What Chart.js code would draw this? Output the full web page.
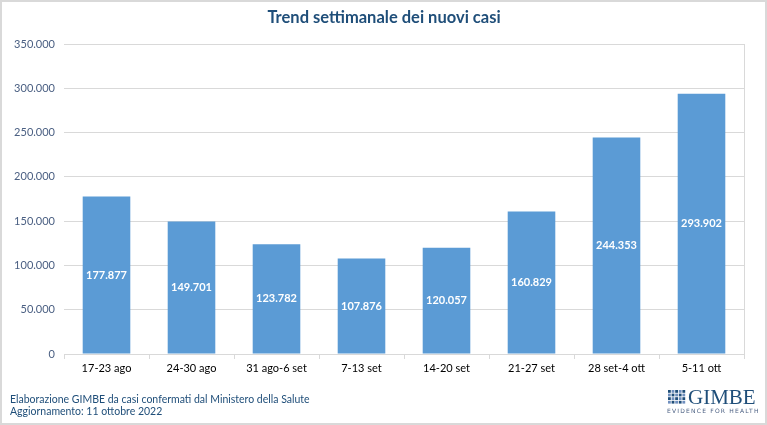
<!DOCTYPE html>
<html lang="it">

<head>
    <meta charset="UTF-8">
    <title>Trend settimanale dei nuovi casi</title>
    <style>
        html,
        body {
            margin: 0;
            padding: 0;
            background: #fff;
        }

        .wrap {
            width: 767px;
            height: 425px;
            box-sizing: border-box;
            border: 2px solid #d9d9d9;
            position: relative;
        }
    </style>
</head>

<body>
    <div class="wrap">
        <canvas id="myChart" width="763" height="421"></canvas>
    </div>

    <script src="https://cdn.jsdelivr.net/npm/chart.js"></script>

    <script>
        // dati
        const weeks = ['17-23 ago', '24-30 ago', '31 ago-6 set', '7-13 set', '14-20 set', '21-27 set', '28 set-4 ott', '5-11 ott'];
        const newCases = [177877, 149701, 123782, 107876, 120057, 160829, 244353, 293902];
        const yTicks = [0, 50000, 100000, 150000, 200000, 250000, 300000, 350000];

        const FONT = 'Lato, "Open Sans", sans-serif';
        const NAVY = '#1f4e79';

        // 177877 -> "177.877"
        function fmt(n) {
            return String(n).replace(/\B(?=(\d{3})+(?!\d))/g, '.');
        }

        // etichette, titolo, footer e logo
        const extras = {
            id: 'extras',
            afterDatasetsDraw(chart) {
                const ctx = chart.ctx;
                const meta = chart.getDatasetMeta(0);
                ctx.save();
                ctx.fillStyle = '#fff';
                ctx.font = 'bold 11px ' + FONT;
                ctx.textAlign = 'center';
                ctx.textBaseline = 'middle';
                meta.data.forEach((bar, i) => {
                    ctx.fillText(fmt(newCases[i]), bar.x, (bar.y + bar.base) / 2);
                });
                ctx.restore();
            },
            afterDraw(chart) {
                const ctx = chart.ctx;
                const a = chart.chartArea;
                ctx.save();
                // bordo destro area grafico
                ctx.strokeStyle = '#d9d9d9';
                ctx.lineWidth = 1;
                ctx.beginPath();
                ctx.moveTo(Math.round(a.right) + 0.5, a.top);
                ctx.lineTo(Math.round(a.right) + 0.5, a.bottom);
                ctx.stroke();

                // titolo
                ctx.fillStyle = NAVY;
                ctx.font = 'bold 16.5px ' + FONT;
                ctx.textAlign = 'center';
                ctx.textBaseline = 'middle';
                ctx.fillText('Trend settimanale dei nuovi casi', 382, 16);

                // footer
                ctx.font = '10.5px ' + FONT;
                ctx.textAlign = 'left';
                ctx.fillText('Elaborazione GIMBE da casi confermati dal Ministero della Salute', 8, 398);
                ctx.fillText('Aggiornamento: 11 ottobre 2022', 8, 410);

                // logo
                for (let r = 0; r < 4; r++) {
                    for (let c = 0; c < 5; c++) {
                        ctx.fillStyle = (r + c) % 2 ? '#6f8fbf' : NAVY;
                        ctx.fillRect(666 + c * 3.6, 388 + r * 3.6, 2.8, 2.8);
                    }
                }
                ctx.fillStyle = NAVY;
                ctx.font = '21px "Liberation Serif", "DejaVu Serif", serif';
                ctx.textBaseline = 'alphabetic';
                ctx.fillText('GIMBE', 686, 402);
                ctx.font = '6px "DejaVu Sans", sans-serif';
                ctx.letterSpacing = '1.2px';
                ctx.fillStyle = '#4a5f82';
                ctx.fillText('EVIDENCE FOR HEALTH', 665, 411);
                ctx.restore();
            }
        };

        const ctx = document.getElementById('myChart').getContext('2d');
        const myChart = new Chart(ctx, {
            type: 'bar',
            data: {
                labels: weeks,
                datasets: [{
                    data: newCases,
                    backgroundColor: '#5b9bd5',
                    borderWidth: 0,
                    categoryPercentage: 1,
                    barPercentage: 0.56
                }]
            },
            options: {
                responsive: false,
                animation: false,
                layout: {
                    padding: { left: 0, right: 21, top: 42, bottom: 48 }
                },
                plugins: {
                    legend: { display: false },
                    tooltip: { enabled: false }
                },
                scales: {
                    x: {
                        offset: true,
                        grid: {
                            offset: true,
                            drawOnChartArea: false,
                            tickLength: 5,
                            color: '#d9d9d9'
                        },
                        border: { color: '#d9d9d9' },
                        ticks: {
                            color: '#000',
                            font: { family: FONT, size: 11 },
                            maxRotation: 0,
                            padding: 3
                        },
                        afterFit(scale) { scale.height = 21; }
                    },
                    y: {
                        min: 0,
                        max: 350000,
                        afterBuildTicks(scale) {
                            scale.ticks = yTicks.map(v => ({ value: v }));
                        },
                        grid: {
                            color: '#d9d9d9',
                            drawTicks: false
                        },
                        border: { display: false },
                        ticks: {
                            color: '#4a5f82',
                            font: { family: FONT, size: 11 },
                            padding: 9,
                            callback: v => fmt(v)
                        },
                        afterFit(scale) { scale.width = 62; }
                    }
                }
            },
            plugins: [extras]
        });
    </script>

</body>

</html>
